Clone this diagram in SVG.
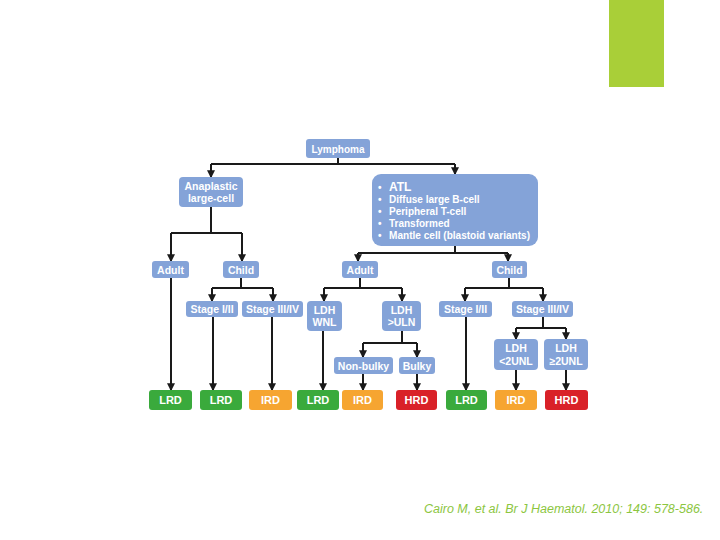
<svg xmlns="http://www.w3.org/2000/svg" width="720" height="540" viewBox="0 0 720 540">
<defs>
<marker id="ah" viewBox="0 0 6 6" refX="5" refY="3" markerWidth="4" markerHeight="4" orient="auto"><path d="M0,0 L6,3 L0,6 z" fill="#1a1a1a"/></marker>
<style>
.b{fill:#84a3d8}
.g{fill:#3aaa3c}
.o{fill:#f6a531}
.r{fill:#d92128}
.t{font-family:"Liberation Sans",Arial,sans-serif;font-weight:bold;fill:#fff;font-size:10.5px;text-anchor:middle}
.tl{font-family:"Liberation Sans",Arial,sans-serif;font-weight:bold;fill:#fff;font-size:10px}
.c{fill:none;stroke:#1a1a1a;stroke-width:2}
.a{fill:none;stroke:#1a1a1a;stroke-width:2;marker-end:url(#ah)}
.res{font-family:"Liberation Sans",Arial,sans-serif;font-weight:bold;fill:#fff;font-size:11px;text-anchor:middle}
</style>
</defs>
<rect width="720" height="540" fill="#fff"/>
<rect x="609" y="0" width="55" height="87" fill="#a9cf38"/>

<g id="connectors">
<path class="c" d="M338,158 V164 M211,164 H455"/>
<path class="a" d="M211,164 V177"/>
<path class="a" d="M455,164 V174"/>
<path class="c" d="M211,207 V233 M171,233 H242"/>
<path class="a" d="M171,233 V261"/>
<path class="a" d="M242,233 V261"/>
<path class="c" d="M455,246 V253 M358,253 H508"/>
<path class="a" d="M358,253 V261"/>
<path class="a" d="M508,253 V261"/>
<path class="c" d="M241,278 V288 M212,288 H273"/>
<path class="a" d="M212,288 V301"/>
<path class="a" d="M273,288 V301"/>
<path class="c" d="M360,278 V288 M324,288 H402"/>
<path class="a" d="M324,288 V301"/>
<path class="a" d="M402,288 V301"/>
<path class="c" d="M509,278 V288 M465,288 H543"/>
<path class="a" d="M465,288 V301"/>
<path class="a" d="M543,288 V301"/>
<path class="c" d="M402,331 V343 M363,343 H417"/>
<path class="a" d="M363,343 V357"/>
<path class="a" d="M417,343 V357"/>
<path class="c" d="M543,317 V328 M516,328 H566"/>
<path class="a" d="M516,328 V339"/>
<path class="a" d="M566,328 V339"/>
<path class="a" d="M171,278 V390"/>
<path class="a" d="M213,317 V390"/>
<path class="a" d="M272,317 V390"/>
<path class="a" d="M323,331 V390"/>
<path class="a" d="M363,374 V390"/>
<path class="a" d="M417,374 V390"/>
<path class="a" d="M466,317 V390"/>
<path class="a" d="M516,370 V390"/>
<path class="a" d="M566,370 V390"/>
</g>

<g id="lymphoma"><rect class="b" x="306" y="139" width="64" height="19" rx="3"/><text class="t" x="338" y="152.5" style="font-size:10px">Lymphoma</text></g>
<g id="anaplastic"><rect class="b" x="179" y="177" width="64" height="30" rx="4"/><text class="t" x="211" y="190">Anaplastic</text><text class="t" x="211" y="202">large-cell</text></g>
<g id="atl"><rect class="b" x="372" y="174" width="166" height="72" rx="9"/>
<text class="tl" x="378" y="191">•</text><text class="tl" x="389" y="191" style="font-size:12px">ATL</text>
<text class="tl" x="378" y="203">•</text><text class="tl" x="389" y="203">Diffuse large B-cell</text>
<text class="tl" x="378" y="215">•</text><text class="tl" x="389" y="215">Peripheral T-cell</text>
<text class="tl" x="378" y="227">•</text><text class="tl" x="389" y="227">Transformed</text>
<text class="tl" x="378" y="239">•</text><text class="tl" x="389" y="239" textLength="141" lengthAdjust="spacingAndGlyphs">Mantle cell (blastoid variants)</text></g>

<g id="adult1"><rect class="b" x="152" y="261" width="37" height="17" rx="3"/><text class="t" x="170.5" y="273.5">Adult</text></g>
<g id="child1"><rect class="b" x="223" y="261" width="36" height="17" rx="3"/><text class="t" x="241" y="273.5">Child</text></g>
<g id="adult2"><rect class="b" x="342" y="261" width="36" height="17" rx="3"/><text class="t" x="360" y="273.5">Adult</text></g>
<g id="child2"><rect class="b" x="492" y="261" width="35" height="17" rx="3"/><text class="t" x="509.5" y="273.5">Child</text></g>

<g id="stage12a"><rect class="b" x="186" y="301" width="52" height="16" rx="3"/><text class="t" x="212" y="313">Stage I/II</text></g>
<g id="stage34a"><rect class="b" x="242" y="301" width="61" height="16" rx="3"/><text class="t" x="272.5" y="313">Stage III/IV</text></g>
<g id="ldhwnl"><rect class="b" x="307" y="301" width="35" height="30" rx="4"/><text class="t" x="324.5" y="313.5">LDH</text><text class="t" x="324.5" y="326">WNL</text></g>
<g id="ldhuln"><rect class="b" x="382" y="301" width="39" height="30" rx="4"/><text class="t" x="401.5" y="313.5">LDH</text><text class="t" x="401.5" y="326">&gt;ULN</text></g>
<g id="stage12b"><rect class="b" x="439" y="301" width="53" height="16" rx="3"/><text class="t" x="465.5" y="313">Stage I/II</text></g>
<g id="stage34b"><rect class="b" x="512" y="301" width="61" height="16" rx="3"/><text class="t" x="542.5" y="313">Stage III/IV</text></g>

<g id="nonbulky"><rect class="b" x="334" y="357" width="59" height="17" rx="3"/><text class="t" x="363.5" y="369.5">Non-bulky</text></g>
<g id="bulky"><rect class="b" x="399" y="357" width="36" height="17" rx="3"/><text class="t" x="417" y="369.5">Bulky</text></g>
<g id="ldhlt2"><rect class="b" x="494" y="339" width="44" height="31" rx="4"/><text class="t" x="516" y="352">LDH</text><text class="t" x="516" y="365">&lt;2UNL</text></g>
<g id="ldhge2"><rect class="b" x="544" y="339" width="44" height="31" rx="4"/><text class="t" x="566" y="352">LDH</text><text class="t" x="566" y="365">≥2UNL</text></g>

<g id="r1"><rect class="g" x="149" y="390" width="43" height="20" rx="3"/><text class="res" x="170.5" y="404">LRD</text></g>
<g id="r2"><rect class="g" x="200" y="390" width="42" height="20" rx="3"/><text class="res" x="221" y="404">LRD</text></g>
<g id="r3"><rect class="o" x="249" y="390" width="43" height="20" rx="3"/><text class="res" x="270.5" y="404">IRD</text></g>
<g id="r4"><rect class="g" x="297" y="390" width="42" height="20" rx="3"/><text class="res" x="318" y="404">LRD</text></g>
<g id="r5"><rect class="o" x="342" y="390" width="41" height="20" rx="3"/><text class="res" x="362.5" y="404">IRD</text></g>
<g id="r6"><rect class="r" x="396" y="390" width="41" height="20" rx="3"/><text class="res" x="416.5" y="404">HRD</text></g>
<g id="r7"><rect class="g" x="446" y="390" width="41" height="20" rx="3"/><text class="res" x="466.5" y="404">LRD</text></g>
<g id="r8"><rect class="o" x="495" y="390" width="42" height="20" rx="3"/><text class="res" x="516" y="404">IRD</text></g>
<g id="r9"><rect class="r" x="545" y="390" width="43" height="20" rx="3"/><text class="res" x="566.5" y="404">HRD</text></g>

<text x="424" y="513" style="font-family:'Liberation Sans',Arial,sans-serif;font-style:italic;font-size:12.5px;fill:#8cc63f">Cairo M, et al. Br J Haematol. 2010; 149: 578-586.</text>
</svg>
